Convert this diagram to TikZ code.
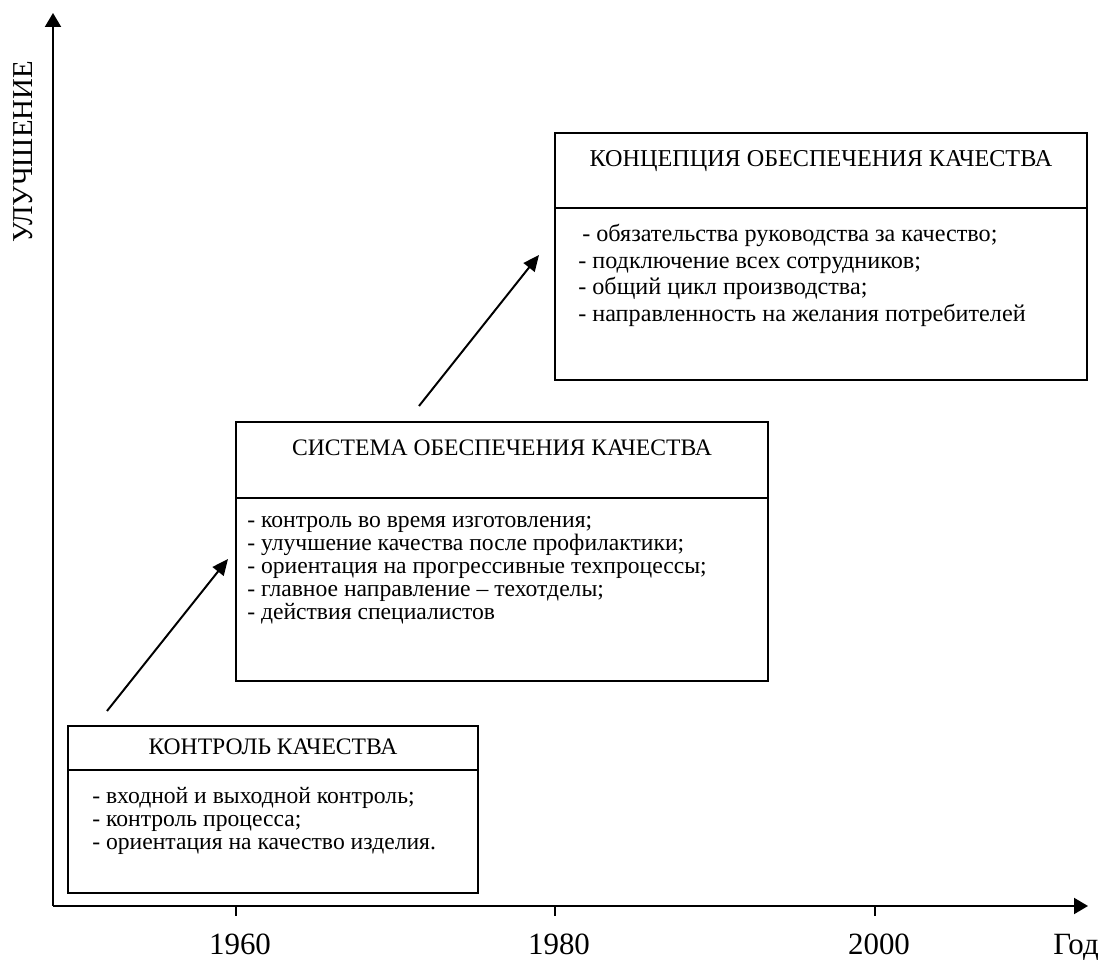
\documentclass[tikz,border=0pt]{standalone}
\usepackage{fontspec}
\setmainfont{Liberation Serif}
\usetikzlibrary{arrows.meta}
\begin{document}
\begin{tikzpicture}[>={Triangle[length=0.35cm,width=0.4cm]}, font=\fontsize{16.8}{19}\selectfont,
	item/.style={anchor=base west, inner sep=0pt},
	axislabel/.style={font=\fontsize{22}{24}\selectfont, inner sep=0pt}]
	% Границы рисунка
	\useasboundingbox (-1.325,-1.425) rectangle (26.2,22.65);
	% Точки осей и стрелок
	\path
	(0,0) coordinate (O)
	(0,22.325) coordinate (Y)
	(25.875,0) coordinate (X)
	(1.35,4.875) coordinate (A1)
	(4.375,8.675) coordinate (B1)
	(9.15,12.5) coordinate (A2)
	(12.15,16.275) coordinate (B2);
	% Оси координат
	\draw[line width=1.4pt, ->] (O) -- (Y);
	\draw[line width=1.4pt, ->] (O) -- (X);
	% Деления и годы
	\foreach \x/\t in {4.575/1960, 12.55/1980, 20.55/2000} {
		\draw[line width=1pt] (\x,0) -- (\x,-0.25);
		\node[axislabel, anchor=base] (y\t) at ({\x+0.1},-1.225) {\t};
	}
	\node[axislabel, anchor=base east] (god) at (26.15,-1.225) {Год};
	\node[axislabel, font=\fontsize{20.5}{23}\selectfont, rotate=90] (ul) at (-0.75,18.85) {УЛУЧШЕНИЕ};
	% Блоки: рамка и разделитель
	\foreach \a/\b/\c/\d/\h in {0.375/0.325/10.625/4.5/3.4, 4.575/5.625/17.875/12.1/10.2, 12.55/13.15/25.85/19.325/17.45} {
		\draw[line width=1.1pt] (\a,\b) rectangle (\c,\d);
		\draw[line width=1.1pt] (\a,\h) -- (\c,\h);
	}
	% Заголовки блоков
	\node (h1) at (5.5,3.98) {КОНТРОЛЬ КАЧЕСТВА};
	\node (h2) at (11.225,11.45) {СИСТЕМА ОБЕСПЕЧЕНИЯ КАЧЕСТВА};
	\node[font=\fontsize{17.2}{19}\selectfont] (h3) at (19.2,18.625) {КОНЦЕПЦИЯ ОБЕСПЕЧЕНИЯ КАЧЕСТВА};
	% Содержание блоков
	\foreach \t [count=\i] in {{- входной и выходной контроль;}, {- контроль процесса;}, {- ориентация на качество изделия.}}
	\node[item] (k\i) at (0.975,{2.55-0.575*(\i-1)}) {\t};
	\foreach \t [count=\i] in {{- контроль во время изготовления;}, {- улучшение качества после профилактики;}, {- ориентация на прогрессивные техпроцессы;}, {- главное направление -- техотделы;}, {- действия специалистов}}
	\node[item] (s\i) at (4.85,{9.45-0.575*(\i-1)}) {\t};
	\begin{scope}[font=\fontsize{17.2}{19}\selectfont]
	\node[item] (c1) at (13.225,16.6) {- обязательства руководства за качество;};
	\foreach \t [count=\i from 2] in {{- подключение всех сотрудников;}, {- общий цикл производства;}, {- направленность на желания потребителей}}
	\node[item] (c\i) at (13.125,{16.6-0.66*(\i-1)}) {\t};
	\end{scope}
	% Стрелки развития
	\draw[line width=1.4pt, ->, >={Triangle[length=0.4cm,width=0.35cm]}] (A1) -- (B1);
	\draw[line width=1.4pt, ->, >={Triangle[length=0.4cm,width=0.35cm]}] (A2) -- (B2);
\end{tikzpicture}
\end{document}
